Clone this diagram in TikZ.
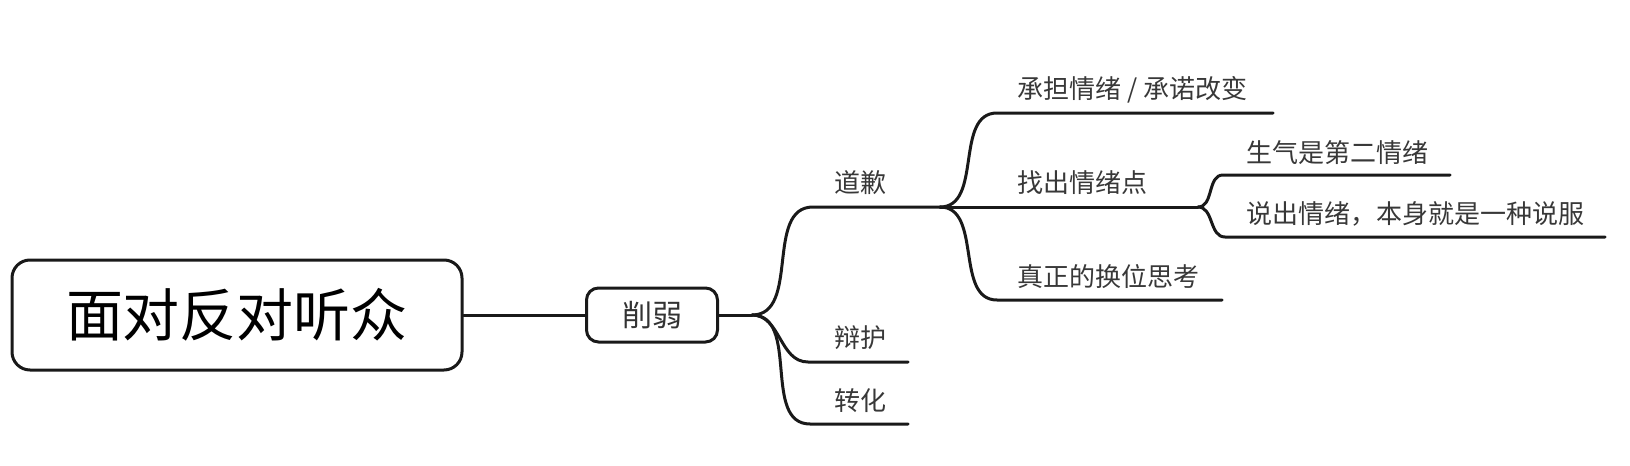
\documentclass[tikz,border=0pt]{standalone}
\usepackage{fontspec}
\setmainfont{Noto Sans CJK SC}
\usetikzlibrary{positioning}

\tikzset{
  topic/.style={draw=black!90,rounded corners=9pt,line width=1.5pt,minimum width=225pt,minimum height=55pt,inner sep=0pt,font=\fontsize{28.5}{30}\selectfont},
  subtopic/.style={draw=black!90,rounded corners=6pt,line width=1.5pt,minimum width=65.5pt,minimum height=27pt,inner sep=0pt,text=black!80,font=\fontsize{15}{16}\selectfont},
  leaf/.style={anchor=west,inner sep=0pt,text=black!78,font=\fontsize{13}{14}\selectfont},
  branch/.style={draw=black!90,line width=1.5pt,line cap=round},
}

\begin{document}
\begin{tikzpicture}[x=0.5pt,y=-0.5pt]
\useasboundingbox (0,0) rectangle (1630,466);
\node[topic] (root) at (237,315) {面对反对听众};
\node[subtopic] (weak) at (652,315) {削弱};
% fork points and line ends
\coordinate (f1) at (752,315);
\coordinate (apo) at (813,207);
\coordinate (f2) at (940,207);
\coordinate (def) at (808,362);
\coordinate (defE) at (908,362);
\coordinate (tra) at (810,424);
\coordinate (traE) at (908,424);
\coordinate (bear) at (997,113);
\coordinate (bearE) at (1273,113);
\coordinate (f3) at (1198,207);
\coordinate (real) at (997,300);
\coordinate (realE) at (1222,300);
\coordinate (ang) at (1223,175);
\coordinate (angE) at (1450,175);
\coordinate (say) at (1225,237);
\coordinate (sayE) at (1605,237);
% connectors
\draw[branch] (root) -- (weak);
\draw[branch] (weak.east) -- (f1);
\draw[branch] (f1) to[out=0,in=180] (apo) -- (f2);
\draw[branch] (f1) to[out=0,in=180] (def) -- (defE);
\draw[branch] (f1) to[out=0,in=180] (tra) -- (traE);
\draw[branch] (f2) to[out=0,in=180] (bear) -- (bearE);
\draw[branch] (f2) -- (f3);
\draw[branch] (f2) to[out=0,in=180] (real) -- (realE);
\draw[branch] (f3) to[out=0,in=180] (ang) -- (angE);
\draw[branch] (f3) to[out=0,in=180] (say) -- (sayE);
% labels
\node[leaf] (apoT) at (834,183) {道歉};
\node[leaf] (defT) at (834,338) {辩护};
\node[leaf] (traT) at (834,401) {转化};
\node[leaf] (bearT) at (1017,90) {承担情绪 / 承诺改变};
\node[leaf] (findT) at (1017,183) {找出情绪点};
\node[leaf] (realT) at (1017,277) {真正的换位思考};
\node[leaf] (angT) at (1246,153) {生气是第二情绪};
\node[leaf] (sayT) at (1246,214) {说出情绪，本身就是一种说服};
\end{tikzpicture}
\end{document}
